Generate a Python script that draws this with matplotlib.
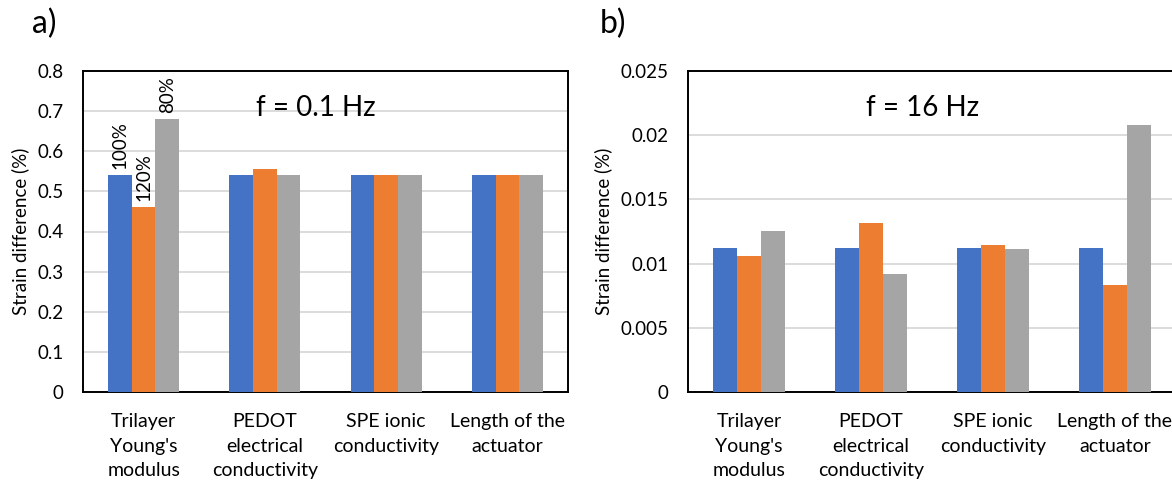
# Two-panel grouped bar chart: strain difference at 0.1 Hz and 16 Hz
import numpy as np
import matplotlib.pyplot as plt

plt.rcParams['font.family'] = ['Lato', 'DejaVu Sans']

# categories shown on both panels
categories = ["Trilayer\nYoung's\nmodulus", "PEDOT\nelectrical\nconductivity",
              "SPE ionic\nconductivity", "Length of the\nactuator"]
bar_labels = ["100%", "120%", "80%"]

# panel a) f = 0.1 Hz
low_100 = [0.54, 0.54, 0.54, 0.54]
low_120 = [0.46, 0.556, 0.54, 0.54]
low_80 = [0.681, 0.54, 0.54, 0.54]

# panel b) f = 16 Hz
high_100 = [0.01123, 0.01123, 0.01123, 0.01123]
high_120 = [0.01058, 0.01317, 0.01144, 0.00833]
high_80 = [0.01253, 0.00918, 0.0111, 0.02083]

colors = ['#4472C4', '#ED7D31', '#A5A5A5']

fig = plt.figure(figsize=(11.72, 4.82), dpi=100)
ax1 = fig.add_axes([83 / 1172, 1 - 392 / 482, 485 / 1172, 321 / 482])
ax2 = fig.add_axes([688 / 1172, 1 - 392 / 482, 488 / 1172, 321 / 482])

x = np.arange(len(categories))
w = 0.195


def draw(ax, series, ymax, step, title):
    for i, vals in enumerate(series):
        ax.bar(x + (i - 1) * w, vals, w, color=colors[i], zorder=3)
    ax.set_xlim(-0.5, len(categories) - 0.5)
    ax.set_ylim(0, ymax)
    ticks = np.arange(0, ymax + step / 2, step)
    ax.set_yticks(ticks)
    ax.set_yticklabels(['0' if t == 0 else '%g' % round(t, 3) for t in ticks])
    ax.set_xticks(x)
    ax.set_xticklabels(categories, linespacing=1.55)
    ax.tick_params(axis='both', length=0, labelsize=14)
    ax.tick_params(axis='y', labelsize=13.5, pad=14)
    ax.tick_params(axis='x', pad=15)
    ax.grid(axis='y', color='#D9D9D9', linewidth=1.3, zorder=0)
    for s in ax.spines.values():
        s.set_linewidth(1.4)
        s.set_color('black')
    ax.set_ylabel('Strain difference (%)', fontsize=13.5, labelpad=6)
    ax.text(0.48, 0.885, title, transform=ax.transAxes, fontsize=20,
            ha='center', va='center')


draw(ax1, [low_100, low_120, low_80], 0.8, 0.1, 'f = 0.1 Hz')
draw(ax2, [high_100, high_120, high_80], 0.025, 0.005, 'f = 16 Hz')

# rotated labels above the first group in panel a)
for i, vals in enumerate([low_100, low_120, low_80]):
    ax1.text(x[0] + (i - 1) * w, vals[0] + 0.015, bar_labels[i], rotation=90,
             ha='center', va='bottom', fontsize=13.5)

fig.text(32 / 1172, 1 - 24 / 482, 'a)', fontsize=23, va='center', ha='left')
fig.text(600 / 1172, 1 - 24 / 482, 'b)', fontsize=23, va='center', ha='left')

fig.savefig('out.png', dpi=100)
